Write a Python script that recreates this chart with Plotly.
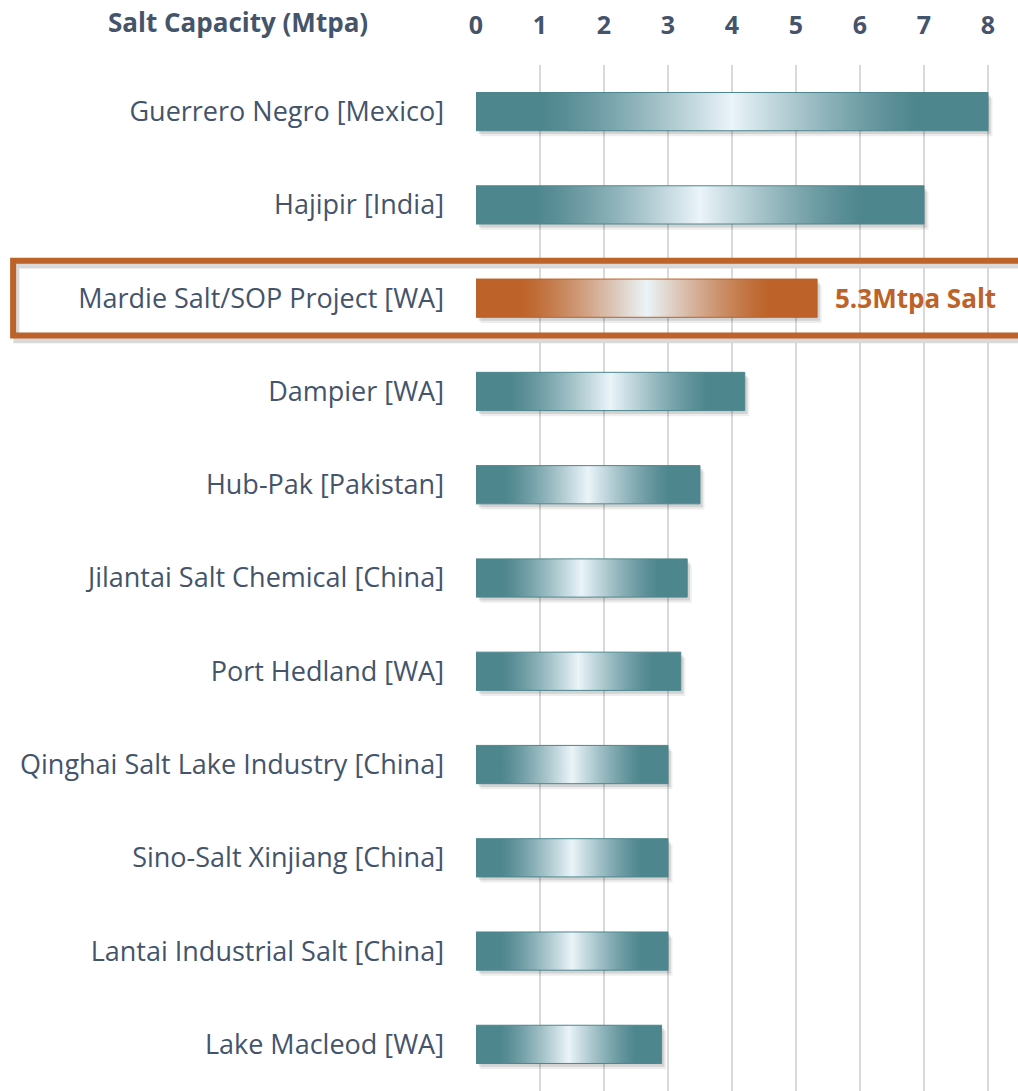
import plotly.graph_objects as go

categories = [
    "Guerrero Negro [Mexico]",
    "Hajipir [India]",
    "Mardie Salt/SOP Project [WA]",
    "Dampier [WA]",
    "Hub-Pak [Pakistan]",
    "Jilantai Salt Chemical [China]",
    "Port Hedland [WA]",
    "Qinghai Salt Lake Industry [China]",
    "Sino-Salt Xinjiang [China]",
    "Lantai Industrial Salt [China]",
    "Lake Macleod [WA]",
]
capacity = [8.0, 7.0, 5.33, 4.2, 3.5, 3.3, 3.2, 3.0, 3.0, 3.0, 2.9]
highlight_index = 2
highlight_label = "5.3Mtpa Salt"
x_ticks = [0, 1, 2, 3, 4, 5, 6, 7, 8]

TEAL = "#4E868E"
ORANGE = "#BD6228"
TEXT = "#44546A"
CENTER = "#EAF4F9"
HALF = 0.205
FONT = "Open Sans"


def hex2rgb(h):
    h = h.lstrip("#")
    return [int(h[i:i + 2], 16) for i in (0, 2, 4)]


def gradient(base, lo=0.13, hi=0.86, mid=0.5, n=8):
    b, c = hex2rgb(base), hex2rgb(CENTER)
    stops = [[0, base], [lo, base]]
    pts = [lo + (mid - lo) * k / n for k in range(1, n)] + [mid] + \
          [mid + (hi - mid) * k / n for k in range(1, n)]
    for p in pts:
        t = (p - lo) / (mid - lo) if p <= mid else (hi - p) / (hi - mid)
        w = t ** 1.25
        col = [round(b[j] + (c[j] - b[j]) * w) for j in range(3)]
        stops.append([p, f"rgb({col[0]},{col[1]},{col[2]})"])
    stops += [[hi, base], [1, base]]
    return stops


fig = go.Figure()

for i, (cat, v) in enumerate(zip(categories, capacity)):
    base = ORANGE if i == highlight_index else TEAL
    y0, y1 = i - HALF, i + HALF
    # soft drop shadow
    for k, a in ((1.0, 0.07), (0.6, 0.11)):
        dx, dy = 0.07 * k, 0.06 * k
        fig.add_trace(go.Scatter(
            x=[dx, v + dx, v + dx, dx, dx],
            y=[y0 + dy, y0 + dy, y1 + dy, y1 + dy, y0 + dy],
            fill="toself", fillcolor=f"rgba(0,0,0,{a})",
            line=dict(width=0), mode="lines", hoverinfo="skip", showlegend=False,
        ))
    fig.add_trace(go.Scatter(
        x=[0, v, v, 0, 0],
        y=[y0, y0, y1, y1, y0],
        fill="toself",
        fillgradient=dict(type="horizontal", colorscale=gradient(base)),
        line=dict(width=1, color=base), mode="lines",
        name=cat, hoverinfo="x+name", showlegend=False,
    ))

fig.add_annotation(
    x=capacity[highlight_index] + 0.25, y=highlight_index, xref="x", yref="y",
    text=f"<b>{highlight_label}</b>", showarrow=False, xanchor="left", yanchor="middle",
    font=dict(family=FONT, size=26, color=ORANGE),
)

# highlight frame shadow and frame
fig.add_shape(type="rect", xref="paper", yref="y",
              x0=-0.848, x1=1.02, y0=highlight_index - 0.40 + 0.05, y1=highlight_index + 0.40 + 0.05,
              line=dict(color="rgba(0,0,0,0.15)", width=6), layer="below")
fig.add_shape(type="rect", xref="paper", yref="y",
              x0=-0.854, x1=1.02, y0=highlight_index - 0.40, y1=highlight_index + 0.40,
              line=dict(color=ORANGE, width=6))

fig.add_annotation(
    x=-0.1956, y=1.0419, xref="paper", yref="paper",
    text="<b>Salt Capacity (Mtpa)</b>", showarrow=False, xanchor="right", yanchor="middle",
    font=dict(family=FONT, size=26, color=TEXT),
)

fig.update_layout(
    width=1018, height=1091,
    margin=dict(l=476, r=0, t=65, b=0, pad=0),
    paper_bgcolor="white", plot_bgcolor="white",
    font=dict(family=FONT, color=TEXT),
    xaxis=dict(
        side="top", range=[0, 8.469], tickvals=x_ticks,
        ticktext=[f"<b>{t}</b>" for t in x_ticks],
        tickfont=dict(family=FONT, size=25, color=TEXT),
        showgrid=True, gridcolor="#D9D9D9", gridwidth=2,
        zeroline=False, showline=False, ticks="", ticklabelstandoff=25,
    ),
    yaxis=dict(
        range=[10.5, -0.5], tickvals=list(range(len(categories))), ticktext=categories,
        tickfont=dict(family=FONT, size=27, color=TEXT),
        showgrid=False, zeroline=False, showline=False, ticks="", ticklabelstandoff=31,
    ),
)

fig.write_html("out.html", config={"displayModeBar": False},
               post_script="document.body.style.margin='0';")
